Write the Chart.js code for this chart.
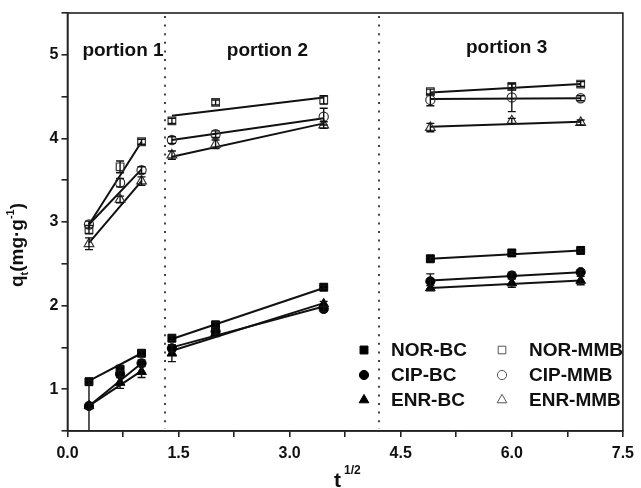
<!DOCTYPE html>
<html>
<head>
<meta charset="utf-8">
<script src="https://cdn.jsdelivr.net/npm/chart.js@4.4.1/dist/chart.umd.min.js"></script>
<style>
  html, body { margin: 0; padding: 0; background: #fff; }
  #wrap { width: 641px; height: 488px; }
</style>
</head>
<body>
<div id="wrap"><canvas id="kinChart" width="641" height="488"></canvas></div>
<script>
// sqrt(t) sampling points
const xs = [0.29, 0.71, 1.0, 1.41, 2.0, 3.46, 4.9, 6.0, 6.93];

// measured q_t values
const norBC  = [1.09, 1.24, 1.43, 1.61, 1.77, 2.22, 2.56, 2.63, 2.66];
const cipBC  = [0.80, 1.18, 1.31, 1.49, 1.69, 1.96, 2.29, 2.36, 2.40];
const enrBC  = [0.80, 1.08, 1.21, 1.43, 1.67, 2.02, 2.21, 2.27, 2.30];
const norMMB = [2.91, 3.66, 3.96, 4.21, 4.43, 4.46, 4.56, 4.62, 4.65];
const cipMMB = [2.97, 3.47, 3.62, 3.98, 4.05, 4.26, 4.46, 4.49, 4.48];
const enrMMB = [2.74, 3.27, 3.49, 3.80, 3.93, 4.16, 4.13, 4.21, 4.19];

// error bars (+/-)
const errNorBC  = [0.03, 0.03, 0.03, 0.03, 0.03, 0.02, 0.02, 0.02, 0.02];
const errCipBC  = [0.30, 0.04, 0.04, 0.04, 0.03, 0.03, 0.09, 0.04, 0.03];
const errEnrBC  = [0.03, 0.07, 0.07, 0.10, 0.04, 0.03, 0.03, 0.05, 0.05];
const errNorMMB = [0.05, 0.07, 0.03, 0.03, 0.03, 0.05, 0.03, 0.03, 0.03];
const errCipMMB = [0.04, 0.05, 0.04, 0.04, 0.04, 0.10, 0.07, 0.17, 0.03];
const errEnrMMB = [0.07, 0.04, 0.05, 0.05, 0.05, 0.04, 0.05, 0.03, 0.03];

// fitted line end points, one pair per portion
const fitX      = [0.29, 1.0, 1.41, 3.46, 4.9, 6.93];
const fitNorBC  = [1.10, 1.43, 1.60, 2.21, 2.56, 2.66];
const fitCipBC  = [0.80, 1.31, 1.50, 1.99, 2.30, 2.40];
const fitEnrBC  = [0.80, 1.22, 1.46, 2.03, 2.21, 2.30];
const fitNorMMB = [2.97, 3.96, 4.27, 4.49, 4.55, 4.65];
const fitCipMMB = [2.97, 3.63, 3.98, 4.24, 4.47, 4.48];
const fitEnrMMB = [2.75, 3.49, 3.78, 4.18, 4.14, 4.20];

const seriesNames = ['NOR-BC', 'CIP-BC', 'ENR-BC', 'NOR-MMB', 'CIP-MMB', 'ENR-MMB'];
const portionNames = ['portion 1', 'portion 2', 'portion 3'];
const portionAt = [[0.75, 5.05], [2.70, 5.05], [5.93, 5.08]];
const dividers = [1.32, 4.2];

const xMajor = [0, 1.5, 3.0, 4.5, 6.0, 7.5];
const xLabels = ['0.0', '1.5', '3.0', '4.5', '6.0', '7.5'];
const yMajor = [1, 2, 3, 4, 5];
const yLabels = ['1', '2', '3', '4', '5'];

const FONT = "'Liberation Sans', Arial, sans-serif";

function pts(vals) { return xs.map((x, i) => ({ x: x, y: vals[i] })); }
function fitPts(vals) {
  const out = [];
  for (let k = 0; k < 3; k++) {
    out.push({ x: fitX[2 * k], y: vals[2 * k] }, { x: fitX[2 * k + 1], y: vals[2 * k + 1] });
    if (k < 2) out.push({ x: (fitX[2 * k + 1] + fitX[2 * k + 2]) / 2, y: null });
  }
  return out;
}

const series = [
  { vals: norBC,  err: errNorBC,  fit: fitNorBC,  style: 'rect',     r: 5.6, filled: true },
  { vals: cipBC,  err: errCipBC,  fit: fitCipBC,  style: 'circle',   r: 4.6, filled: true },
  { vals: enrBC,  err: errEnrBC,  fit: fitEnrBC,  style: 'triangle', r: 5.6, filled: true },
  { vals: norMMB, err: errNorMMB, fit: fitNorMMB, style: 'rect',     r: 5.4, filled: false },
  { vals: cipMMB, err: errCipMMB, fit: fitCipMMB, style: 'circle',   r: 4.6, filled: false },
  { vals: enrMMB, err: errEnrMMB, fit: fitEnrMMB, style: 'triangle', r: 5.6, filled: false }
];

const markerSets = series.map((s, i) => ({
  label: seriesNames[i],
  data: pts(s.vals),
  errors: s.err,
  pointStyle: s.style,
  pointRadius: s.r,
  pointBackgroundColor: s.filled ? '#000' : 'rgba(0,0,0,0)',
  pointBorderColor: s.filled ? '#000' : '#333',
  pointBorderWidth: s.filled ? 1 : 1.2,
  showLine: false
}));

const fitSets = series.map((s, i) => ({
  label: seriesNames[i] + ' fit',
  data: fitPts(s.fit),
  showLine: true,
  spanGaps: false,
  pointRadius: 0,
  borderColor: '#111',
  borderWidth: 2
}));

// dotted dividers + portion labels
const notesPlugin = {
  id: 'notes',
  beforeDatasetsDraw(chart) {
    const { ctx, chartArea: a, scales: { x } } = chart;
    ctx.save();
    ctx.strokeStyle = '#444';
    ctx.lineWidth = 2;
    ctx.setLineDash([2, 6.6]);
    dividers.forEach(v => {
      const px = Math.round(x.getPixelForValue(v));
      ctx.beginPath();
      ctx.moveTo(px, a.top + 3);
      ctx.lineTo(px, a.bottom - 2);
      ctx.stroke();
    });
    ctx.restore();
  },
  afterDraw(chart) {
    const { ctx, scales: { x, y } } = chart;
    ctx.save();
    ctx.fillStyle = '#111';
    ctx.font = 'bold 19px ' + FONT;
    ctx.textAlign = 'center';
    ctx.textBaseline = 'middle';
    portionNames.forEach((t, i) => {
      ctx.fillText(t, x.getPixelForValue(portionAt[i][0]), y.getPixelForValue(portionAt[i][1]));
    });
    ctx.restore();
  }
};

// vertical error bars with caps
const errorPlugin = {
  id: 'errorBars',
  afterDatasetsDraw(chart) {
    const { ctx, chartArea: a, scales: { x, y } } = chart;
    ctx.save();
    ctx.beginPath();
    ctx.rect(a.left, a.top, a.right - a.left, a.bottom - a.top);
    ctx.clip();
    ctx.strokeStyle = '#111';
    ctx.lineWidth = 1.4;
    chart.data.datasets.forEach(ds => {
      if (!ds.errors) return;
      ds.data.forEach((p, i) => {
        const e = ds.errors[i];
        const px = x.getPixelForValue(p.x);
        const hi = y.getPixelForValue(p.y + e);
        const lo = y.getPixelForValue(p.y - e);
        ctx.beginPath();
        ctx.moveTo(px, hi); ctx.lineTo(px, lo);
        ctx.moveTo(px - 4, hi); ctx.lineTo(px + 4, hi);
        ctx.moveTo(px - 4, lo); ctx.lineTo(px + 4, lo);
        ctx.stroke();
      });
    });
    ctx.restore();
  }
};

// frame, axis titles and legend
const framePlugin = {
  id: 'frame',
  afterDraw(chart) {
    const { ctx, chartArea: a } = chart;
    ctx.save();
    ctx.strokeStyle = '#222';
    ctx.lineWidth = 1.6;
    ctx.strokeRect(a.left, a.top, a.right - a.left, a.bottom - a.top);

    // x title: t^1/2
    ctx.fillStyle = '#111';
    ctx.textBaseline = 'alphabetic';
    ctx.textAlign = 'left';
    ctx.font = 'bold 21px ' + FONT;
    ctx.fillText('t', 334, 487);
    ctx.font = 'bold 12px ' + FONT;
    ctx.fillText('1/2', 344, 474);

    // y title: q_t(mg·g^-1)
    ctx.translate(23, 0);
    ctx.rotate(-Math.PI / 2);
    const parts = [
      ['q', 'bold 19px ', 0], ['t', 'bold 11px ', 5],
      ['(mg\u00b7g', 'bold 19px ', 0], ['-1', 'bold 11px ', -9], [')', 'bold 19px ', 0]
    ];
    let total = 0;
    parts.forEach(p => { ctx.font = p[1] + FONT; total += ctx.measureText(p[0]).width; });
    let cx = -245 - total / 2;
    parts.forEach(p => {
      ctx.font = p[1] + FONT;
      ctx.fillText(p[0], cx, p[2]);
      cx += ctx.measureText(p[0]).width;
    });
    ctx.restore();

    // legend
    ctx.save();
    const rows = [350, 375, 400];
    const cols = [{ mx: 364, tx: 391 }, { mx: 502, tx: 529 }];
    ctx.font = 'bold 19px ' + FONT;
    ctx.textBaseline = 'middle';
    markerSets.forEach((ds, i) => {
      const c = cols[Math.floor(i / 3)];
      const ry = rows[i % 3];
      const filled = i < 3;
      ctx.fillStyle = filled ? '#000' : 'rgba(0,0,0,0)';
      ctx.strokeStyle = filled ? '#000' : '#555';
      ctx.lineWidth = 1;
      Chart.helpers.drawPoint(ctx, {
        pointStyle: ds.pointStyle, radius: ds.pointRadius, rotation: 0, borderWidth: 1
      }, c.mx, ry);
      ctx.fillStyle = '#111';
      ctx.fillText(ds.label, c.tx, ry + 1);
    });
    ctx.restore();
  }
};

const tickFont = { family: FONT, weight: 'bold', size: 16 };

new Chart(document.getElementById('kinChart'), {
  type: 'scatter',
  data: { datasets: markerSets.concat(fitSets) },
  options: {
    responsive: false,
    animation: false,
    layout: { padding: { top: 13, right: 12, left: 0, bottom: 0 } },
    plugins: { legend: { display: false }, tooltip: { enabled: false } },
    scales: {
      x: {
        type: 'linear', min: 0, max: 7.5,
        afterBuildTicks: s => {
          const t = [];
          for (let i = 0; i < xMajor.length; i++) {
            t.push({ value: xMajor[i] });
            if (i < xMajor.length - 1) t.push({ value: (xMajor[i] + xMajor[i + 1]) / 2 });
          }
          s.ticks = t;
        },
        afterFit: s => { s.height = 57; },
        ticks: {
          autoSkip: false, maxRotation: 0, color: '#111', font: tickFont, padding: 7,
          callback: v => { const k = xMajor.indexOf(v); return k >= 0 ? xLabels[k] : ''; }
        },
        grid: { drawOnChartArea: false, tickLength: 6, color: '#222', lineWidth: 1.6 },
        border: { color: '#222', width: 1.6 }
      },
      y: {
        type: 'linear', min: 0.5, max: 5.5,
        afterBuildTicks: s => {
          const t = [];
          yMajor.forEach(v => { t.push({ value: v - 0.5 }, { value: v }); });
          t.push({ value: 5.5 });
          s.ticks = t;
        },
        afterFit: s => { s.width = 67.5; },
        ticks: {
          autoSkip: false, color: '#111', font: tickFont, padding: 3,
          callback: v => { const k = yMajor.indexOf(v); return k >= 0 ? yLabels[k] : ''; }
        },
        grid: { drawOnChartArea: false, tickLength: 6, color: '#222', lineWidth: 1.6 },
        border: { color: '#222', width: 1.6 }
      }
    }
  },
  plugins: [notesPlugin, errorPlugin, framePlugin]
});
</script>
</body>
</html>
